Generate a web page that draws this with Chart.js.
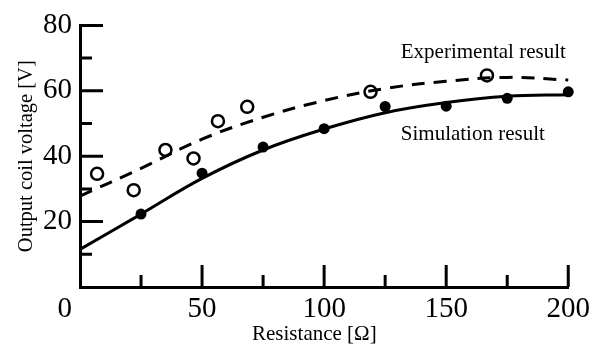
<!DOCTYPE html>
<html>
<head>
<meta charset="utf-8">
<script src="https://cdn.jsdelivr.net/npm/chart.js@4.4.0/dist/chart.umd.min.js"></script>
<style>
  html, body { margin:0; padding:0; background:#fff; }
  #wrap { width:595px; height:345px; }
</style>
</head>
<body>
<div id="wrap"><canvas id="chart"></canvas></div>
<script>
// === Dados ===
const curveX = [0, 25, 50, 75, 100, 125, 150, 175, 200];
const simCurve = [11.5, 22.3, 33.2, 41.9, 48.3, 53.3, 56.4, 58.3, 58.8];
const expCurve = [27.8, 36.3, 45.2, 51.9, 57.0, 60.7, 62.9, 64.1, 63.3];

const expX = [7, 22, 35, 46.5, 56.5, 68.5, 119, 166.7];
const expY = [34.6, 29.6, 41.9, 39.3, 50.7, 55.1, 59.7, 64.7];

const simX = [25, 50, 75, 100, 125, 150, 175, 200];
const simY = [22.3, 34.8, 42.8, 48.4, 55.2, 55.3, 57.7, 59.7];

const xTicks = [0, 50, 100, 150, 200];
const xMinor = [25, 75, 125, 175];
const yTicks = [0, 20, 40, 60, 80];
const yMinor = [10, 30, 50, 70];

const labelExp = "Experimental result";
const labelSim = "Simulation result";
const xTitle = "Resistance [Ω]";
const yTitle = "Output coil voltage [V]";

const FONT = "'Liberation Serif', 'Times New Roman', serif";
const TICK_SIZE = 29;

function pts(xs, ys){
  return xs.map((x,i)=>({x:x, y:ys[i]}));
}

// === Plugin: ticks internos, "0", título x e textos ===
const extras = {
  id: "extras",
  afterDraw(chart){
    const ctx = chart.ctx;
    const xs = chart.scales.x, ys = chart.scales.y;
    const x0 = xs.getPixelForValue(0), y0 = ys.getPixelForValue(0);
    ctx.save();
    ctx.strokeStyle = "#000";
    ctx.lineWidth = 3;
    ctx.beginPath();
    xTicks.slice(1).forEach(v=>{
      const px = xs.getPixelForValue(v);
      ctx.moveTo(px, y0); ctx.lineTo(px, y0-22);
    });
    xMinor.forEach(v=>{
      const px = xs.getPixelForValue(v);
      ctx.moveTo(px, y0); ctx.lineTo(px, y0-12);
    });
    yTicks.slice(1).forEach(v=>{
      const py = ys.getPixelForValue(v);
      ctx.moveTo(x0, py); ctx.lineTo(x0+23, py);
    });
    yMinor.forEach(v=>{
      const py = ys.getPixelForValue(v);
      ctx.moveTo(x0, py); ctx.lineTo(x0+12, py);
    });
    ctx.stroke();

    // rótulo "0" do canto, na mesma linha dos rótulos de x
    ctx.fillStyle = "#000";
    ctx.font = TICK_SIZE + "px " + FONT;
    ctx.textAlign = "right";
    const t = xs._labelItems && xs._labelItems[1];
    if(t){
      ctx.textBaseline = t.options.textBaseline;
      ctx.fillText("0", ys.right - 8, t.options.translation[1] + t.textOffset);
    } else {
      ctx.textBaseline = "top";
      ctx.fillText("0", ys.right - 8, xs.top + 5);
    }

    // título do eixo x
    ctx.font = "21px " + FONT;
    ctx.textAlign = "center";
    ctx.textBaseline = "middle";
    ctx.fillText(xTitle, xs.getPixelForValue(96), chart.height - 11);

    // textos das curvas
    ctx.textAlign = "left";
    ctx.fillText(labelExp, xs.getPixelForValue(131.4), ys.getPixelForValue(71.8));
    ctx.fillText(labelSim, xs.getPixelForValue(131.4), ys.getPixelForValue(46.7));
    ctx.restore();
  }
};

new Chart(document.getElementById("chart"), {
  type: "scatter",
  data: {
    datasets: [
      {
        label: "exp-points",
        data: pts(expX, expY),
        pointStyle: "circle",
        pointRadius: 6,
        pointBorderWidth: 2.5,
        pointBorderColor: "#000",
        pointBackgroundColor: "rgba(0,0,0,0)",
        showLine: false,
        clip: false,
        order: 0
      },
      {
        label: "sim-points",
        data: pts(simX, simY),
        pointStyle: "circle",
        pointRadius: 5.5,
        pointBorderWidth: 0,
        pointBackgroundColor: "#000",
        showLine: false,
        clip: false,
        order: 0
      },
      {
        label: "exp-curve",
        data: pts(curveX, expCurve),
        showLine: true,
        borderColor: "#000",
        borderWidth: 3,
        borderDash: [13, 9],
        pointRadius: 0,
        tension: 0.4,
        fill: false,
        clip: false,
        order: 1
      },
      {
        label: "sim-curve",
        data: pts(curveX, simCurve),
        showLine: true,
        borderColor: "#000",
        borderWidth: 3,
        pointRadius: 0,
        tension: 0.4,
        fill: false,
        clip: false,
        order: 1
      }
    ]
  },
  options: {
    responsive: true,
    maintainAspectRatio: false,
    animation: false,
    layout: { padding: { left: 0, right: 25, top: 23, bottom: 0 } },
    plugins: { legend: { display: false }, tooltip: { enabled: false } },
    scales: {
      x: {
        type: "linear", min: 0, max: 200,
        afterBuildTicks: s=>{ s.ticks = xTicks.map(v=>({value:v})); },
        afterFit: s=>{ s.height = 58; },
        grid: { display: false, drawTicks: false },
        border: { display: true, width: 3, color: "#000" },
        ticks: {
          color: "#000", padding: 5, maxRotation: 0, autoSkip: false,
          font: { family: FONT, size: TICK_SIZE },
          callback: v => v === 0 ? "" : String(v)
        },
        title: { display: false }
      },
      y: {
        type: "linear", min: 0, max: 80,
        afterBuildTicks: s=>{ s.ticks = yTicks.map(v=>({value:v})); },
        afterFit: s=>{ s.width = 80; },
        grid: { display: false, drawTicks: false },
        border: { display: true, width: 3, color: "#000" },
        ticks: {
          color: "#000", padding: 8, autoSkip: false,
          font: { family: FONT, size: TICK_SIZE },
          callback: v => v === 0 ? "" : String(v)
        },
        title: {
          display: true, text: yTitle, color: "#000",
          font: { family: FONT, size: 20.5, lineHeight: 1 },
          padding: { top: 16, bottom: 0 }
        }
      }
    }
  },
  plugins: [extras]
});
</script>
</body>
</html>
